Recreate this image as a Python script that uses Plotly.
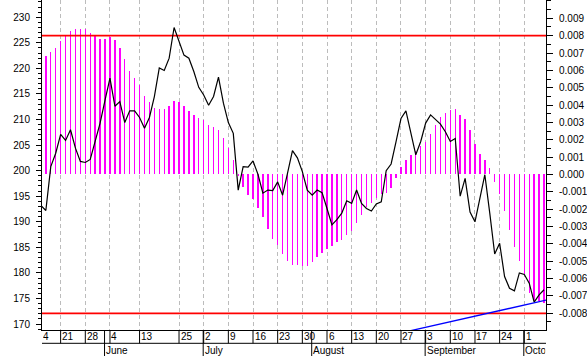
import plotly.graph_objects as go

# ---------------- data ----------------
# trading-day index (0 = 14 May)
DAY_IDX = list(range(1, 104))

# price series (left axis)
PRICE = [193.2, 192.2, 200.8, 203.4, 207.1, 205.9, 208.0, 204.4, 201.8, 201.6,
         202.2, 205.7, 209.3, 213.8, 218.1, 212.6, 213.5, 209.4, 211.7, 211.7,
         210.4, 208.3, 210.4, 214.5, 220.1, 219.6, 222.0, 228.0, 225.5, 222.6,
         222.0, 219.4, 216.3, 214.8, 212.8, 214.5, 218.3, 213.2, 209.4, 207.3,
         196.2, 200.8, 200.7, 201.9, 199.3, 195.6, 196.2, 196.1, 197.8, 195.2,
         199.5, 203.9, 202.5, 199.8, 196.2, 195.2, 196.2, 195.7, 192.6, 189.4,
         190.4, 191.7, 194.1, 193.6, 196.2, 193.6, 192.6, 192.1, 193.5, 193.9,
         200.0, 201.3, 205.7, 210.2, 211.7, 207.6, 203.1, 205.7, 209.3, 210.9,
         210.0, 209.1, 207.6, 205.7, 206.3, 195.0, 198.5, 191.9, 190.0, 194.6,
         199.2, 191.7, 183.7, 185.8, 179.3, 177.0, 176.5, 180.0, 179.7, 178.0,
         174.3, 175.7, 176.7]

# oscillator histogram (right axis, in thousandths)
OSC_MILLI = [6.60, 6.80, 7.05, 7.28, 7.72, 7.97, 8.24, 8.41, 8.41, 8.36,
             8.18, 8.05, 7.78, 7.78, 7.95, 7.76, 7.28, 6.65, 5.99, 5.55,
             5.15, 4.55, 4.17, 3.82, 3.79, 3.79, 3.95, 4.23, 4.17, 3.96,
             3.63, 3.44, 3.25, 3.15, 2.88, 2.73, 2.54, 2.13, 1.50, 0.81,
             -0.08, -0.73, -1.19, -1.44, -1.94, -2.46, -3.17, -3.69, -4.09, -4.61,
             -4.96, -5.19, -5.24, -5.28, -5.28, -5.05, -4.76, -4.51, -4.28, -4.13,
             -3.90, -3.77, -3.46, -3.23, -2.81, -2.32, -1.88, -1.65, -1.34, -1.11,
             -1.08, -0.79, -0.21, 0.42, 0.85, 1.15, 1.38, 1.63, 1.86, 2.31,
             2.88, 3.30, 3.57, 3.71, 3.75, 3.44, 3.17, 2.59, 1.77, 1.19,
             0.85, 0.37, -0.44, -1.13, -2.08, -3.19, -4.20, -5.00, -5.73, -6.85,
             -7.25, -7.30, -7.42]

# trend line (two anchor points, left axis)
TREND_X = [70, 104]
TREND_Y = [167.4, 174.8]

# signal levels (right axis)
LEVELS = [0.008, -0.008]

# x-axis labels
TICK_POS = [0, 5, 10, 15, 21, 29, 34, 39, 44, 49, 54, 59, 64, 69, 74, 79, 84, 89, 94, 99]
TICK_LABELS = ["14", "21", "28", "4", "13", "25", "2", "9", "16", "23", "30",
               "6", "13", "20", "27", "3", "10", "17", "24", "1"]
MONTH_POS = [14, 34, 56, 79, 99]
MONTH_LABELS = ["June", "July", "August", "September", "October"]

LEFT_TICKS = list(range(170, 235, 5))
RIGHT_TICKS = [round(-0.008 + 0.001 * k, 3) for k in range(18)]

# ---------------- layout constants ----------------
W, H = 587, 356
ML, MR, MT, MB = 42, 41, 0, 26
X_RANGE = [1.22, 103.4]
Y_PRICE = [168.83, 233.38]
Y_OSC = [-0.008963, 0.010055]
PLOT_W = W - ML - MR
PLOT_H = H - MT - MB
FONT = "Liberation Sans, Arial, sans-serif"
ROW = 13.3  # height of date-label row in px


def xpx(v):
    return (v - X_RANGE[0]) / (X_RANGE[1] - X_RANGE[0]) * PLOT_W


fig = go.Figure()

fig.add_trace(go.Bar(
    x=DAY_IDX, y=[v / 1000.0 for v in OSC_MILLI], yaxis="y",
    width=0.28, marker=dict(color="#ff00ff", line=dict(width=0)),
    showlegend=False, hoverinfo="skip"))

for lv in LEVELS:
    fig.add_trace(go.Scatter(
        x=[X_RANGE[0] - 2, X_RANGE[1] + 2], y=[lv, lv], yaxis="y", mode="lines",
        line=dict(color="#ff0000", width=1.8), showlegend=False, hoverinfo="skip"))

fig.add_trace(go.Scatter(
    x=DAY_IDX, y=PRICE, yaxis="y2", mode="lines",
    line=dict(color="#000000", width=1.2), showlegend=False, hoverinfo="skip"))

fig.add_trace(go.Scatter(
    x=TREND_X, y=TREND_Y, yaxis="y2", mode="lines",
    line=dict(color="#0000ff", width=1.3), showlegend=False, hoverinfo="skip"))

shapes = []
annotations = []
row_frac = ROW / PLOT_H

# date label row
for pos, lab in zip(TICK_POS, TICK_LABELS):
    if pos < X_RANGE[0]:
        annotations.append(dict(
            x=0, xref="paper", y=0, yref="paper", xanchor="left", yanchor="top",
            text=lab, showarrow=False, width=6, align="right", borderpad=0,
            font=dict(family=FONT, size=10, color="black")))
        continue
    shapes.append(dict(type="line", xref="x", yref="paper", x0=pos, x1=pos,
                       y0=0, y1=-row_frac, line=dict(color="black", width=1)))
    annotations.append(dict(
        x=pos, xref="x", y=0, yref="paper", xanchor="left", yanchor="top",
        text=lab, showarrow=False, borderpad=0, xshift=0.5,
        font=dict(family=FONT, size=10, color="black")))

shapes.append(dict(type="line", xref="paper", yref="paper", x0=0, x1=1,
                   y0=-row_frac, y1=-row_frac, line=dict(color="black", width=1)))

# month row
for pos, lab in zip(MONTH_POS, MONTH_LABELS):
    shapes.append(dict(type="line", xref="x", yref="paper", x0=pos - 0.1, x1=pos - 0.1,
                       y0=0, y1=-MB / PLOT_H, line=dict(color="black", width=1)))
    ann = dict(x=pos - 0.1, xref="x", y=0, yref="paper", xanchor="left", yanchor="top",
               text=lab, showarrow=False, borderpad=0, xshift=0.5, yshift=-14.0,
               align="left", font=dict(family=FONT, size=10, color="black"))
    avail = PLOT_W - xpx(pos - 0.1) - 2
    if avail < 50:
        ann["width"] = avail
    annotations.append(ann)

fig.update_layout(
    template="none",
    width=W, height=H,
    margin=dict(l=ML, r=MR, t=MT, b=MB, pad=0, autoexpand=False),
    paper_bgcolor="white", plot_bgcolor="white",
    font=dict(family=FONT, size=10, color="black"),
    bargap=0,
    xaxis=dict(range=X_RANGE, tickmode="array", tickvals=TICK_POS, showticklabels=False,
               ticks="", showgrid=True, gridcolor="#bcbcbc", griddash="4px,3px", gridwidth=1,
               showline=True, linecolor="black", linewidth=1, zeroline=False,
               automargin=False, fixedrange=True),
    yaxis=dict(side="right", range=Y_OSC, tickmode="array", tickvals=RIGHT_TICKS,
               ticktext=[f"{v:.3f}" for v in RIGHT_TICKS], ticks="outside", ticklen=6,
               tickcolor="black", ticklabelstandoff=4, automargin=False,
               minor=dict(tick0=0, dtick=0.0005, ticks="outside", ticklen=4, tickcolor="black"),
               showgrid=False, showline=True, linecolor="black", linewidth=1, zeroline=False,
               tickfont=dict(family=FONT, size=10, color="black")),
    yaxis2=dict(side="left", overlaying="y", anchor="x", range=Y_PRICE, tickmode="array",
                tickvals=LEFT_TICKS, ticktext=[str(v) for v in LEFT_TICKS],
                ticks="outside", ticklen=5, tickcolor="black", ticklabelstandoff=4,
                automargin=False,
                minor=dict(tick0=0, dtick=1, ticks="outside", ticklen=3, tickcolor="black"),
                showgrid=False, showline=True, linecolor="black", linewidth=1, zeroline=False,
                tickfont=dict(family=FONT, size=10, color="black")),
    shapes=shapes, annotations=annotations,
)

fig.write_html("out.html",
               config={"displayModeBar": False, "staticPlot": True},
               post_script="document.body.style.margin='0';document.body.style.padding='0';")
